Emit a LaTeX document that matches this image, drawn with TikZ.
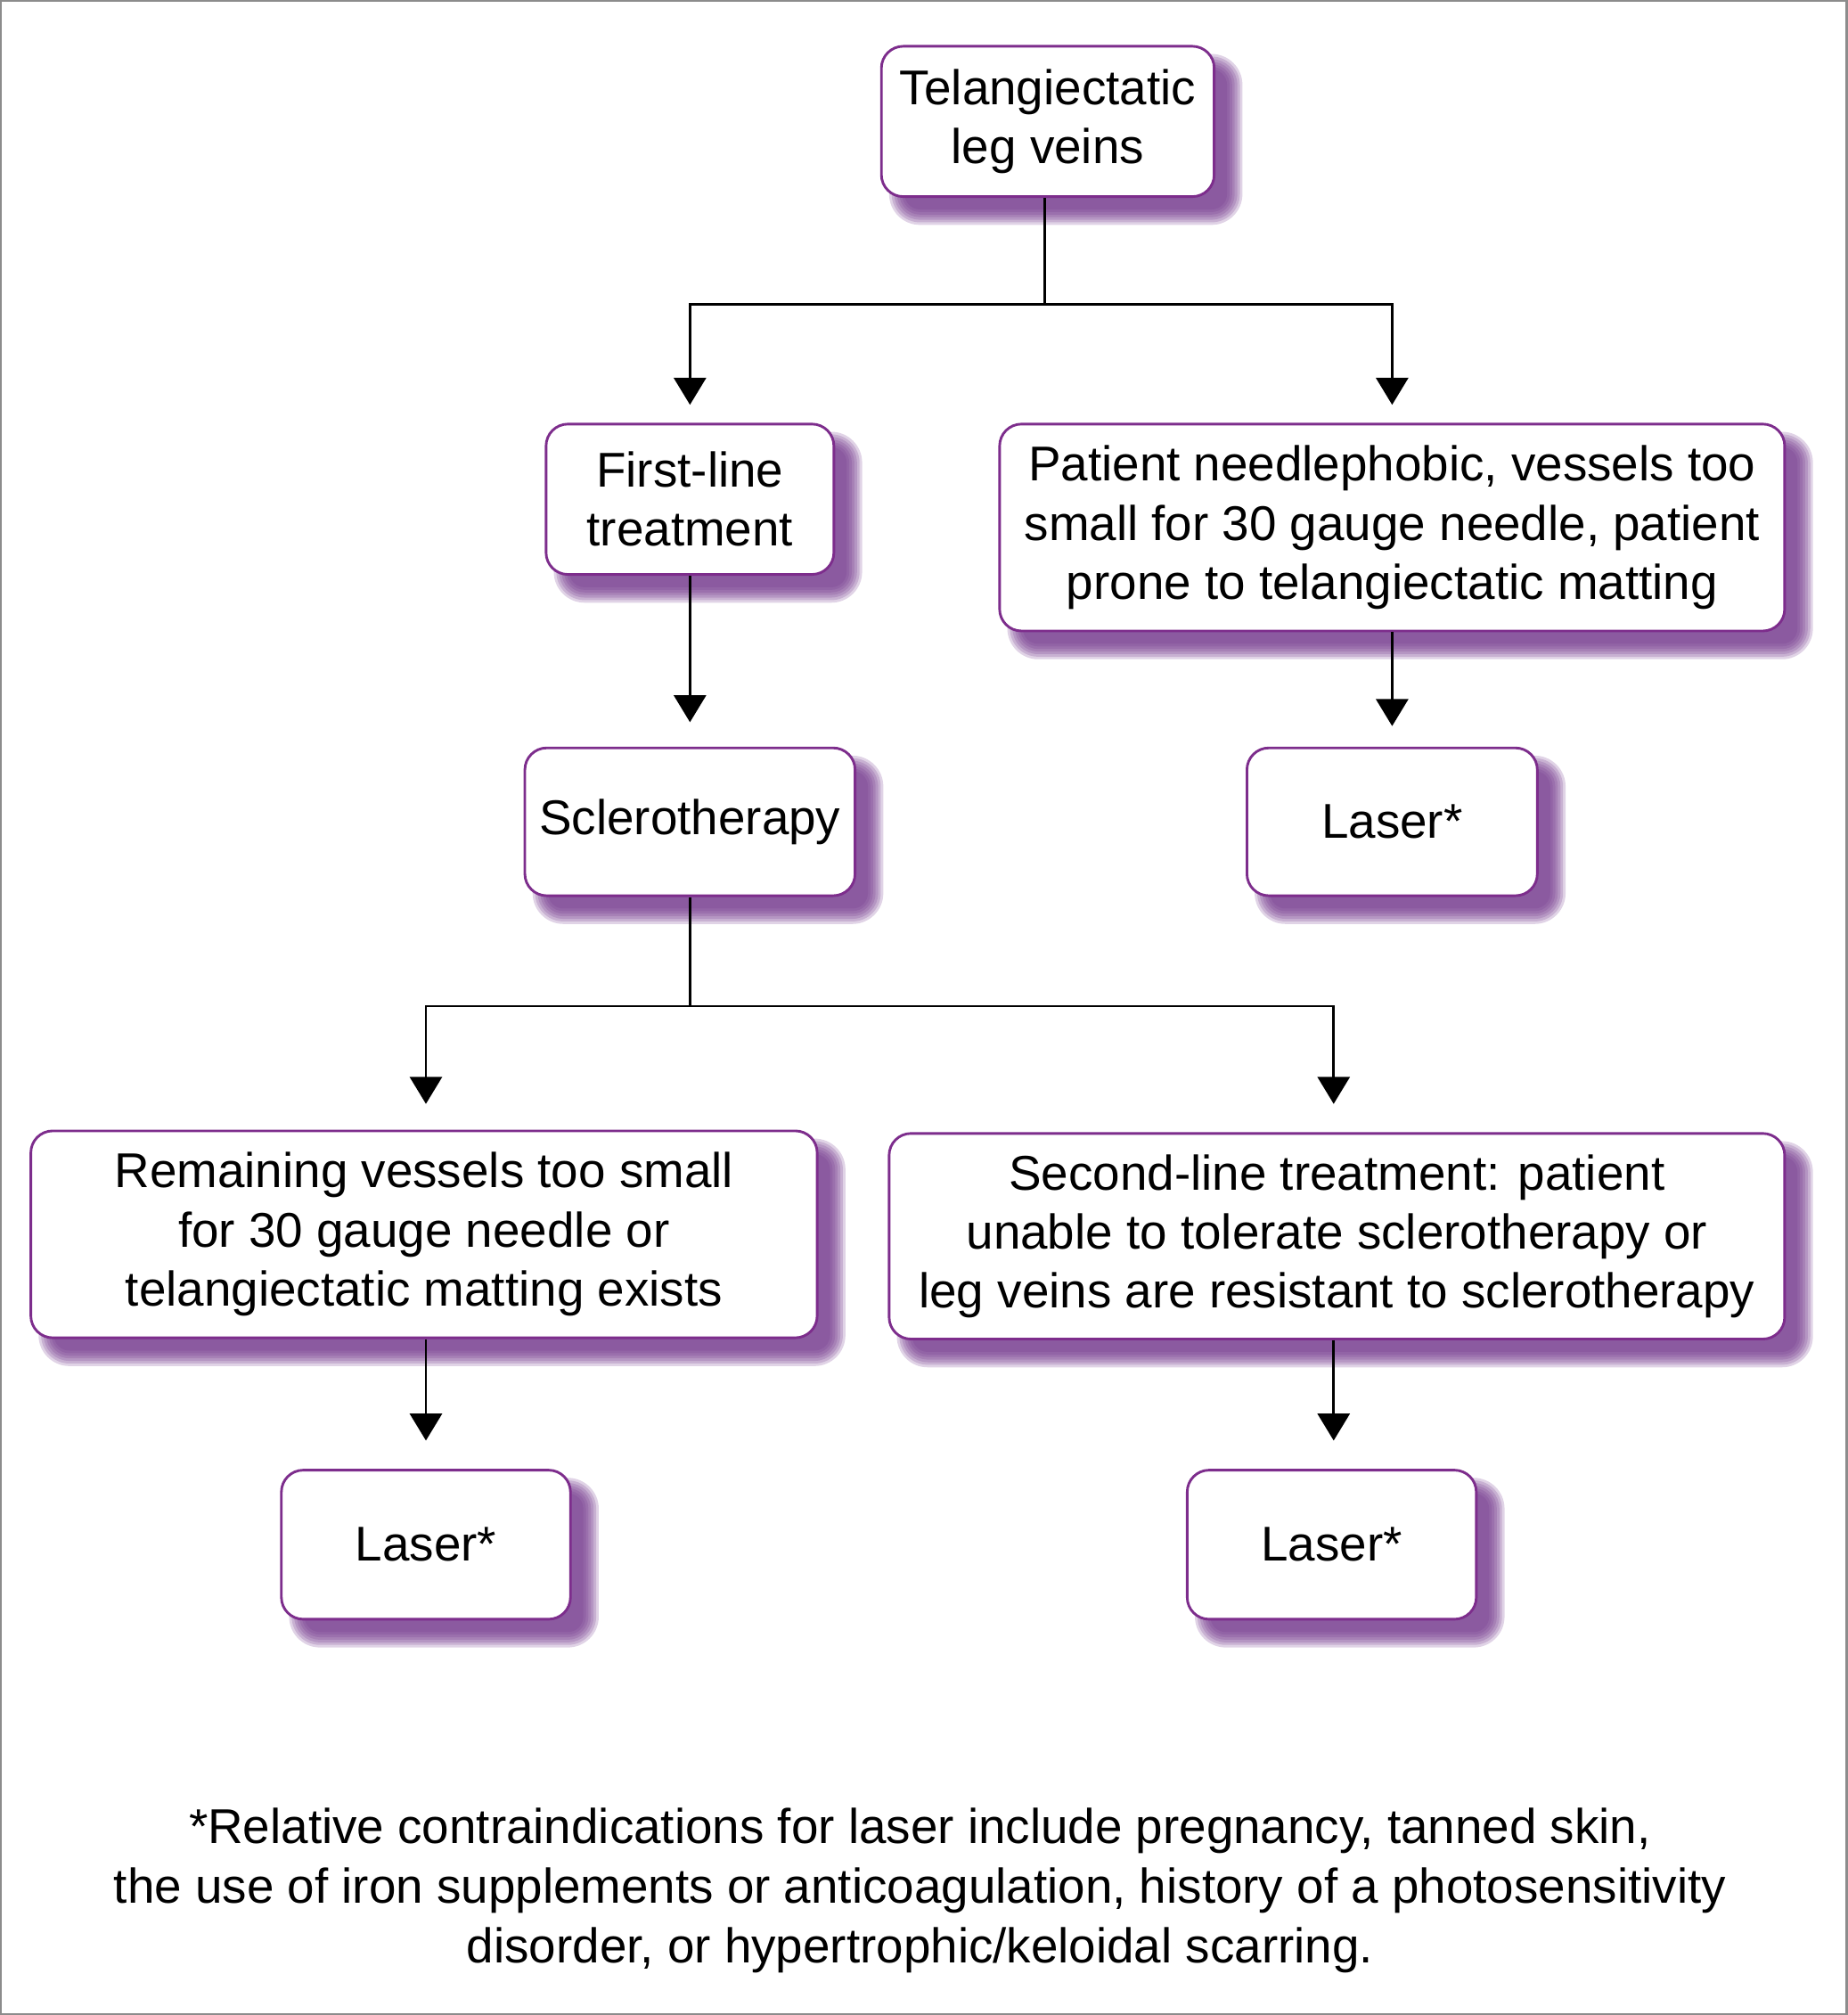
\documentclass[tikz,border=0pt]{standalone}
\usepackage{fontspec}
\setmainfont{Liberation Sans}
\usetikzlibrary{arrows.meta,calc,backgrounds}
\definecolor{boxpurple}{RGB}{125,45,140}
\definecolor{shadowc}{RGB}{115,55,140}
\definecolor{framegray}{RGB}{140,140,140}
\tikzset{
 fbox/.style={draw=boxpurple, line width=2pt, fill=white, rounded corners=17pt, align=center, inner sep=0pt, font=\fontsize{38}{46}\selectfont},
 conn/.style={line width=1.9pt, draw=black},
 arr/.style={conn, -{Triangle[width=25pt 0,length=21pt 0]}},
}
\newcommand\boxshade[1]{%
\begin{pgfonlayer}{background}
\foreach \d in {7,5,3,1,-1,-3,-5}{
 \pgfmathsetmacro\rr{17+\d}
 \fill[shadowc, fill opacity=0.22, rounded corners=\rr pt] ($(#1.north west)+(14-\d,14-\d)$) rectangle ($(#1.south east)+(14+\d,14+\d)$);
}
\end{pgfonlayer}}
\begin{document}
\begin{tikzpicture}[x=1pt,y=-1pt]
\useasboundingbox (0,0) rectangle (1438,1568);
\draw[framegray, line width=1.5pt] (0.75,0.75) rectangle (1437.25,1567.25);

\node[fbox, minimum width=259pt, minimum height=117pt] (top) at (815.5,94.5) {Telangiectatic\\leg veins};
\node[fbox, minimum width=224pt, minimum height=117pt] (first) at (537,388.5) {First-line\\treatment};
\node[fbox, minimum width=611pt, minimum height=161pt] (patient) at (1083.5,410.5) {Patient needlephobic, vessels too\\small for 30 gauge needle, patient\\prone to telangiectatic matting};
\node[fbox, minimum width=257pt, minimum height=115pt] (sclero) at (537,639.5) {Sclerotherapy};
\node[fbox, minimum width=226pt, minimum height=115pt] (laserA) at (1083.5,639.5) {Laser*};
\node[fbox, minimum width=612pt, minimum height=161pt] (remain) at (330,960.5) {Remaining vessels too small\\for 30 gauge needle or\\telangiectatic matting exists};
\node[fbox, minimum width=697pt, minimum height=160pt] (second) at (1040.5,962) {Second-line treatment: patient\\unable to tolerate sclerotherapy or\\leg veins are resistant to sclerotherapy};
\node[fbox, minimum width=225pt, minimum height=116pt] (laserB) at (331.5,1202) {Laser*};
\node[fbox, minimum width=225pt, minimum height=116pt] (laserC) at (1036.5,1202) {Laser*};

\foreach \n in {top,first,patient,sclero,laserA,remain,second,laserB,laserC}{\boxshade{\n}}

\coordinate (s1) at (813,237);
\coordinate (s2) at (537,783);
\draw[conn] (s1 |- top.south) -- (s1);
\draw[arr] (s1) -| ($(first.north)+(0,-14)$);
\draw[arr] (s1) -| ($(patient.north)+(0,-14)$);
\draw[arr] (first.south) -- ($(sclero.north)+(0,-19)$);
\draw[arr] (patient.south) -- ($(laserA.north)+(0,-16)$);
\draw[conn] (sclero.south) -- (s2);
\draw[arr] (s2) -| ($(laserB.north |- remain.north)+(0,-20)$);
\draw[arr] (s2) -| ($(laserC.north |- remain.north)+(1.5,-20)$);
\draw[arr] (laserB.north |- remain.south) -- ($(laserB.north)+(0,-22)$);
\draw[arr] ($(laserC.north |- second.south)+(1.5,0)$) -- ($(laserC.north)+(1.5,-22)$);

\node[align=center, font=\fontsize{38}{46.5}\selectfont] (note) at (716,1471) {*Relative contraindications for laser include pregnancy, tanned skin,\\the use of iron supplements or anticoagulation, history of a photosensitivity\\disorder, or hypertrophic/keloidal scarring.};
\end{tikzpicture}
\end{document}
